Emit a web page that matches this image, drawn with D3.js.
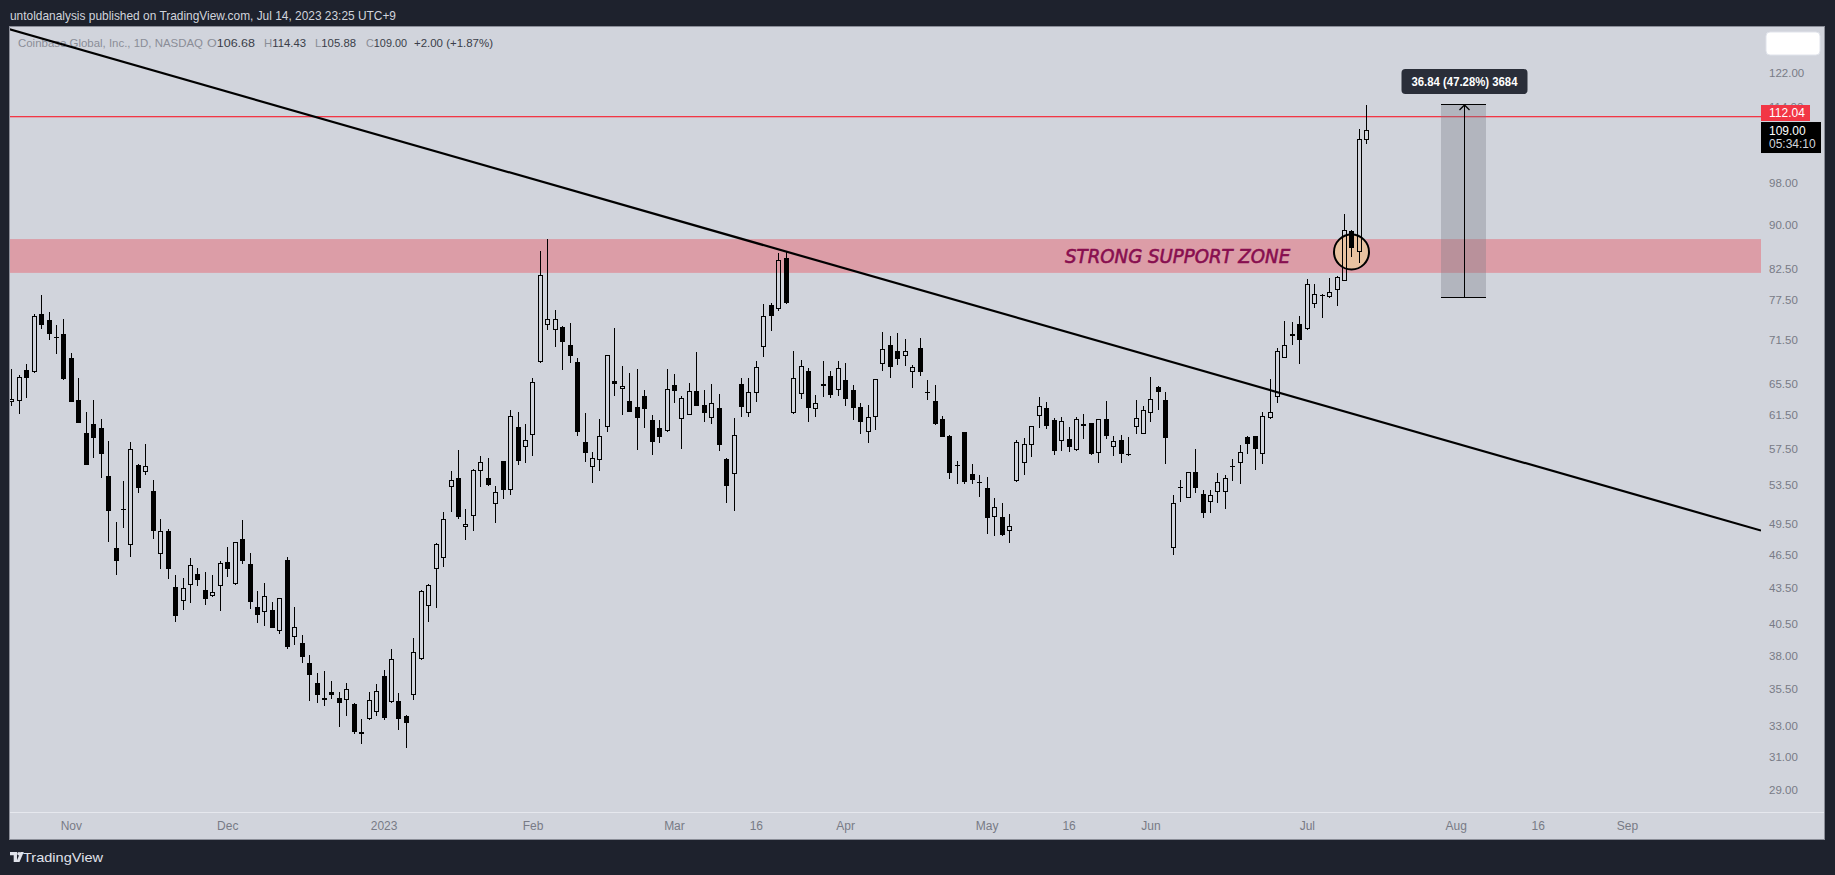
<!DOCTYPE html>
<html><head><meta charset="utf-8">
<script src="https://cdn.jsdelivr.net/npm/d3@7"></script>
<style>
html,body{margin:0;padding:0;background:#1e222d;overflow:hidden}
svg{display:block}
text{white-space:pre}
</style>
</head><body>
<svg id="c" width="1835" height="875"></svg>
<script>
// ---------------- DATA ----------------
const dates = [
"2022-10-20","2022-10-21","2022-10-24","2022-10-25","2022-10-26","2022-10-27","2022-10-28","2022-10-31",
"2022-11-01","2022-11-02","2022-11-03","2022-11-04","2022-11-07","2022-11-08","2022-11-09","2022-11-10","2022-11-11","2022-11-14","2022-11-15","2022-11-16","2022-11-17","2022-11-18","2022-11-21","2022-11-22","2022-11-23","2022-11-25","2022-11-28","2022-11-29","2022-11-30",
"2022-12-01","2022-12-02","2022-12-05","2022-12-06","2022-12-07","2022-12-08","2022-12-09","2022-12-12","2022-12-13","2022-12-14","2022-12-15","2022-12-16","2022-12-19","2022-12-20","2022-12-21","2022-12-22","2022-12-23","2022-12-27","2022-12-28","2022-12-29","2022-12-30",
"2023-01-03","2023-01-04","2023-01-05","2023-01-06","2023-01-09","2023-01-10","2023-01-11","2023-01-12","2023-01-13","2023-01-17","2023-01-18","2023-01-19","2023-01-20","2023-01-23","2023-01-24","2023-01-25","2023-01-26","2023-01-27","2023-01-30","2023-01-31",
"2023-02-01","2023-02-02","2023-02-03","2023-02-06","2023-02-07","2023-02-08","2023-02-09","2023-02-10","2023-02-13","2023-02-14","2023-02-15","2023-02-16","2023-02-17","2023-02-21","2023-02-22","2023-02-23","2023-02-24","2023-02-27","2023-02-28",
"2023-03-01","2023-03-02","2023-03-03","2023-03-06","2023-03-07","2023-03-08","2023-03-09","2023-03-10","2023-03-13","2023-03-14","2023-03-15","2023-03-16","2023-03-17","2023-03-20","2023-03-21","2023-03-22","2023-03-23","2023-03-24","2023-03-27","2023-03-28","2023-03-29","2023-03-30","2023-03-31",
"2023-04-03","2023-04-04","2023-04-05","2023-04-06","2023-04-10","2023-04-11","2023-04-12","2023-04-13","2023-04-14","2023-04-17","2023-04-18","2023-04-19","2023-04-20","2023-04-21","2023-04-24","2023-04-25","2023-04-26","2023-04-27","2023-04-28",
"2023-05-01","2023-05-02","2023-05-03","2023-05-04","2023-05-05","2023-05-08","2023-05-09","2023-05-10","2023-05-11","2023-05-12","2023-05-15","2023-05-16","2023-05-17","2023-05-18","2023-05-19","2023-05-22","2023-05-23","2023-05-24","2023-05-25","2023-05-26","2023-05-30","2023-05-31",
"2023-06-01","2023-06-02","2023-06-05","2023-06-06","2023-06-07","2023-06-08","2023-06-09","2023-06-12","2023-06-13","2023-06-14","2023-06-15","2023-06-16","2023-06-20","2023-06-21","2023-06-22","2023-06-23","2023-06-26","2023-06-27","2023-06-28","2023-06-29","2023-06-30",
"2023-07-03","2023-07-05","2023-07-06","2023-07-07","2023-07-10","2023-07-11","2023-07-12","2023-07-13","2023-07-14"
];
const open = [
63.15,63.32,67.33,66.98,75.32,74.43,71.98,72.37,
68.97,63.40,59.35,60.43,59.94,54.44,47.13,50.99,47.44,55.62,54.92,52.83,46.60,48.73,43.56,42.33,43.79,44.71,43.30,42.84,43.62,
45.79,43.88,47.99,45.64,41.88,41.48,41.59,39.93,45.98,39.40,38.95,37.42,35.96,34.73,35.31,34.92,34.73,34.47,32.59,33.42,33.95,
36.45,34.59,34.66,33.62,35.12,37.70,41.93,45.14,46.16,53.23,54.18,49.18,50.28,54.95,54.18,51.42,56.08,52.90,60.01,57.66,
59.07,68.39,73.63,73.00,73.38,70.78,68.40,58.28,55.46,56.25,60.08,65.85,64.83,63.22,62.47,63.90,60.89,59.89,59.61,
65.31,61.01,61.56,64.49,62.77,61.13,62.35,56.31,54.62,65.41,61.80,64.32,70.45,76.62,76.12,84.26,61.76,64.11,67.18,62.22,65.45,66.51,64.62,
65.93,64.69,62.47,59.50,61.31,68.09,70.74,69.93,69.19,67.02,70.31,64.38,63.27,61.03,58.99,55.62,59.42,54.66,53.75,
53.11,50.11,50.11,48.73,53.93,55.84,57.89,61.35,62.35,60.95,58.37,58.64,57.39,60.39,60.55,57.01,61.03,57.74,58.52,56.89,60.04,59.25,
61.72,65.06,63.40,47.10,53.15,52.13,54.91,52.48,51.71,52.75,52.68,55.39,55.84,58.82,58.94,56.85,61.10,63.78,68.92,72.02,73.78,
73.14,76.79,78.03,77.98,78.96,80.41,88.94,85.22,106.68
];
const high = [
67.42,66.62,68.14,75.32,78.25,75.57,73.68,74.58,
69.67,66.26,61.89,63.40,61.03,58.41,49.65,53.89,58.25,55.77,58.05,54.00,49.95,48.96,44.65,44.38,46.20,45.28,44.92,44.65,45.92,
47.22,47.70,49.85,46.66,43.23,43.94,42.30,42.65,46.29,41.88,39.58,38.03,36.67,36.82,36.09,35.31,35.96,34.55,33.44,35.31,35.89,
36.87,38.47,35.24,33.71,39.34,43.31,43.85,47.60,50.66,54.99,57.34,50.97,55.21,56.64,56.42,53.37,56.10,62.19,61.85,60.37,
66.24,85.40,87.52,75.89,73.48,73.98,68.96,61.76,57.12,61.05,69.35,73.24,67.86,66.92,67.46,64.66,61.51,60.93,67.46,
66.79,63.94,65.58,69.80,64.66,65.45,64.15,56.39,61.17,66.24,66.24,68.52,76.82,76.92,85.02,85.37,69.94,68.66,67.63,64.02,68.52,67.23,68.52,
68.26,65.33,63.02,62.72,66.10,72.60,72.07,72.50,71.64,67.99,71.74,65.98,65.33,61.39,59.10,56.11,59.45,55.80,54.55,
54.33,52.09,51.57,50.45,58.52,58.72,60.15,63.78,63.14,61.11,61.27,60.10,61.27,61.60,60.56,61.04,63.27,58.99,59.10,58.90,63.44,62.59,
66.34,65.15,64.46,52.37,53.96,54.91,57.46,52.92,52.92,54.80,54.54,56.32,57.90,59.02,59.02,61.85,66.12,70.31,74.31,74.07,75.05,
80.79,79.93,78.34,81.01,81.23,92.02,89.06,109.05,114.43
];
const low = [
62.64,61.64,63.65,66.90,73.09,71.51,69.44,66.00,
63.10,60.50,55.60,56.45,54.22,47.70,44.65,49.06,46.32,52.62,54.55,47.99,45.19,44.29,40.63,41.62,42.21,43.68,42.05,42.72,41.54,
44.47,43.76,45.64,41.71,40.55,40.30,40.10,39.67,38.48,38.79,37.45,34.71,34.57,34.34,34.81,32.93,33.67,32.48,31.81,33.40,33.67,
33.39,34.55,32.75,31.59,34.78,37.65,40.62,41.74,45.35,50.69,49.94,47.92,48.77,53.27,53.37,49.57,52.00,52.44,55.70,55.92,
56.69,68.30,72.93,70.55,67.32,68.31,59.02,56.02,53.71,55.02,59.49,63.94,61.56,61.90,57.38,59.97,56.80,58.20,59.49,
63.05,57.50,61.48,62.60,60.60,60.36,57.27,51.61,50.78,61.21,61.21,63.17,69.12,72.84,75.81,76.87,61.60,63.56,60.60,61.21,63.81,63.68,63.94,
62.68,60.91,59.26,58.21,59.74,67.24,66.30,68.05,67.91,64.99,66.57,63.43,60.31,58.82,54.16,53.60,53.60,53.60,52.23,
48.50,48.31,48.31,47.63,53.78,54.55,56.60,59.97,59.86,56.82,57.24,57.16,57.27,58.68,56.82,55.92,58.68,56.62,55.92,56.70,59.25,59.20,
60.70,62.10,55.80,46.47,51.71,52.06,52.58,50.08,50.58,51.61,50.96,53.89,53.60,56.85,55.10,55.80,61.02,62.96,68.90,70.79,68.18,
72.95,76.18,74.66,77.72,76.58,80.40,84.47,83.46,105.88
];
const close = [
63.48,66.35,66.26,75.02,73.73,72.41,71.89,66.12,
63.15,60.55,55.66,58.76,56.90,50.75,45.92,50.92,57.44,53.15,55.51,48.80,48.73,45.19,41.12,43.50,45.52,44.23,42.50,43.13,45.70,
45.22,47.67,45.92,42.30,41.20,42.78,40.15,42.61,38.64,40.18,37.91,36.55,35.12,34.92,35.12,34.57,35.50,32.59,32.48,34.73,35.36,
33.53,37.70,33.46,33.21,38.24,43.19,43.73,47.47,49.91,54.03,50.17,49.41,55.06,55.97,53.51,52.68,52.97,61.36,56.04,58.48,
65.66,81.40,74.54,74.54,71.26,69.29,59.49,57.05,56.40,58.95,69.31,65.50,65.18,61.93,61.09,62.30,58.32,58.90,64.74,
64.58,63.60,64.49,62.68,61.80,62.98,57.96,53.38,59.06,62.56,64.36,67.68,74.96,75.06,83.86,76.97,66.20,67.81,62.43,62.98,65.23,64.06,67.54,
63.56,62.43,60.71,61.31,66.08,70.16,67.77,68.87,69.88,67.68,67.11,64.25,60.47,58.90,54.74,55.51,53.82,54.05,53.64,
50.08,51.20,48.37,49.22,58.25,58.00,60.14,62.60,60.22,57.27,60.75,57.74,60.99,60.22,56.90,61.03,59.02,58.37,56.86,56.78,61.10,62.10,
63.52,64.46,58.71,51.54,53.25,54.83,53.17,50.51,52.41,53.82,54.18,55.50,57.07,57.98,57.42,61.43,61.85,69.93,70.74,72.31,71.45,
79.93,78.34,78.19,78.65,81.12,89.06,85.90,107.00,109.00
];
const marketHolidays = ["2023-09-04"];
const priceTicks = [122,114,98,90,82.5,77.5,71.5,65.5,61.5,57.5,53.5,49.5,46.5,43.5,40.5,38,35.5,33,31,29];
const timeTickLabels = ["Nov","Dec","2023","Feb","Mar","16","Apr","May","16","Jun","Jul","Aug","16","Sep"];
const timeTickDates = ["2022-11-01","2022-12-01","2023-01-03","2023-02-01","2023-03-01","2023-03-16","2023-04-03","2023-05-01","2023-05-16","2023-06-01","2023-07-03","2023-08-01","2023-08-16","2023-09-01"];
// drawings
const zonePrices = [87.51, 81.78];
const zoneText = "STRONG SUPPORT ZONE";
const zoneTextDate = "2023-05-15";
const resistancePrice = 112.04;
const trendDates = ["2022-10-20","2023-07-14"];
const trendPrices = [133.1, 61.19];
const circleDate = "2023-07-12", circlePrice = 85.28;
const measureDates = ["2023-07-28","2023-08-07"];
const measurePrices = [77.92, 114.76];
const headerText = "untoldanalysis published on TradingView.com, Jul 14, 2023 23:25 UTC+9";
const symbolText = "Coinbase Global, Inc., 1D, NASDAQ";
const countdownText = "05:34:10";

// ---------------- CALENDAR ----------------
const calendar = dates.slice();
{
  const fmt = d3.utcFormat("%Y-%m-%d");
  let d = new Date(dates[dates.length-1] + "T00:00:00Z");
  while (calendar.length < 240) {
    d = d3.utcDay.offset(d, 1);
    const wd = d.getUTCDay();
    const s = fmt(d);
    if (wd === 0 || wd === 6 || marketHolidays.includes(s)) continue;
    calendar.push(s);
  }
}
const idx = new Map(calendar.map((d,i)=>[d,i]));

// ---------------- LAYOUT ----------------
const paneL=10, paneR=1761, paneT=27, paneB=812, panelR=1824, panelB=839;
const svg = d3.select("#c");
const x = d3.scaleLinear().domain([-0.175, 235]).range([paneL, paneR]);
const y = d3.scaleLog().domain([133.86, 27.76]).range([paneT, paneB]);
const FONT = "'Liberation Sans', Arial, sans-serif";

// panel
svg.append("rect").attr("x",paneL-0.5).attr("y",paneT-0.5).attr("width",panelR-paneL+1).attr("height",panelB-paneT+1)
  .attr("fill","#d1d4dc").attr("stroke","#8b8e98").attr("stroke-width",1);
svg.append("rect").attr("x",paneL).attr("width",panelR-paneL).attr("y",paneB).attr("height",1)
  .attr("fill","#e6e8ee");

// header
svg.append("text").attr("x",10).attr("y",15).attr("dominant-baseline","central")
  .attr("fill","#d1d4dc").style("font","13px "+FONT)
  .attr("textLength",386).attr("lengthAdjust","spacingAndGlyphs").text(headerText);

// clip
svg.append("defs").append("clipPath").attr("id","pane").append("rect")
  .attr("x",paneL).attr("y",paneT).attr("width",paneR-paneL).attr("height",paneB-paneT);
const g = svg.append("g").attr("clip-path","url(#pane)");

// symbol legend (separate text pieces)
const last = close.length-1;
const chg = close[last]-close[last-1];
const gray="#8a8d97", dark="#3a3e49";
const legendParts = [
  {x:18,  w:185, parts:[[symbolText,gray]]},
  {x:207, w:48,  parts:[["O",gray],[open[last].toFixed(2),dark]]},
  {x:264, w:42,  parts:[["H",gray],[high[last].toFixed(2),dark]]},
  {x:315, w:41,  parts:[["L",gray],[low[last].toFixed(2),dark]]},
  {x:366, w:41,  parts:[["C",gray],[close[last].toFixed(2),dark]]},
  {x:414, w:79,  parts:[[(chg>=0?"+":"")+chg.toFixed(2)+" ("+(chg>=0?"+":"")+(chg/close[last-1]*100).toFixed(2)+"%)",dark]]}
];
legendParts.forEach(p=>{
  const t = g.append("text").attr("x",p.x).attr("y",43).attr("dominant-baseline","central")
    .style("font","11.4px "+FONT).attr("textLength",p.w).attr("lengthAdjust","spacingAndGlyphs");
  p.parts.forEach(([s,c])=>t.append("tspan").attr("fill",c).text(s));
});

// support zone
g.append("rect").attr("x",paneL).attr("width",paneR-paneL)
  .attr("y",y(zonePrices[0])).attr("height",y(zonePrices[1])-y(zonePrices[0]))
  .attr("fill","rgba(242,54,69,0.35)");
g.append("text").attr("x",x(idx.get(zoneTextDate))+4)
  .attr("y",(y(zonePrices[0])+y(zonePrices[1]))/2+6.8)
  .attr("fill","#880e4f").attr("stroke","#880e4f").attr("stroke-width",0.6)
  .style("font","italic 400 19px 'DejaVu Sans', sans-serif")
  .attr("textLength",225).attr("lengthAdjust","spacingAndGlyphs").text(zoneText);

// resistance line
g.append("rect").attr("x",paneL).attr("width",paneR-paneL)
  .attr("y",Math.round(y(resistancePrice))).attr("height",1.3)
  .attr("fill","#f23645");

// circle
g.append("circle").attr("cx",x(idx.get(circleDate))).attr("cy",y(circlePrice)).attr("r",17.5)
  .attr("fill","#e9c2a1").attr("stroke","#000").attr("stroke-width",2);

// candles
const cg = g.append("g").attr("shape-rendering","crispEdges");
dates.forEach((d,i)=>{
  const xc = Math.round(x(idx.get(d)));
  const o=open[i], c=close[i];
  const yT = Math.round(y(Math.max(o,c))), yB = Math.round(y(Math.min(o,c)));
  const yH = Math.round(y(high[i])), yL = Math.round(y(low[i]));
  const up = c>=o;
  const h = yB-yT;
  if (h<=1) {
    cg.append("rect").attr("x",xc).attr("y",yH).attr("width",1).attr("height",Math.max(1,yL-yH)).attr("fill","#000");
    cg.append("rect").attr("x",xc-2).attr("y",yT).attr("width",5).attr("height",Math.max(1,h)).attr("fill","#000");
    return;
  }
  if (yT>yH) cg.append("rect").attr("x",xc).attr("y",yH).attr("width",1).attr("height",yT-yH).attr("fill","#000");
  if (yL>yB) cg.append("rect").attr("x",xc).attr("y",yB).attr("width",1).attr("height",yL-yB).attr("fill","#000");
  if (up) {
    cg.append("rect").attr("x",xc-1.5).attr("y",yT+0.5).attr("width",4).attr("height",h-1)
      .attr("fill","none").attr("stroke","#000").attr("stroke-width",1);
  } else {
    cg.append("rect").attr("x",xc-2).attr("y",yT).attr("width",5).attr("height",h).attr("fill","#000");
  }
});

// trend line (extended across pane)
{
  const x1=x(idx.get(trendDates[0])), y1=y(trendPrices[0]);
  const x2=x(idx.get(trendDates[1])), y2=y(trendPrices[1]);
  const s=(y2-y1)/(x2-x1);
  g.append("line").attr("x1",paneL-5).attr("y1",y1+s*(paneL-5-x1))
    .attr("x2",paneR).attr("y2",y1+s*(paneR-x1))
    .attr("stroke","#000").attr("stroke-width",2.2);
}

// price range measure
{
  const xa=Math.round(x(idx.get(measureDates[0]))), xb=Math.round(x(idx.get(measureDates[1])));
  const yTop=Math.round(y(measurePrices[1])), yBot=Math.round(y(measurePrices[0]));
  const xm=Math.round((xa+xb)/2)+0.5;
  const mg=g.append("g");
  mg.append("rect").attr("x",xa).attr("y",yTop).attr("width",xb-xa).attr("height",yBot-yTop)
    .attr("fill","rgba(120,123,134,0.35)");
  mg.append("line").attr("x1",xa).attr("x2",xb).attr("y1",yTop+0.5).attr("y2",yTop+0.5).attr("stroke","#000");
  mg.append("line").attr("x1",xa).attr("x2",xb).attr("y1",yBot+0.5).attr("y2",yBot+0.5).attr("stroke","#000");
  mg.append("line").attr("x1",xm).attr("x2",xm).attr("y1",yTop+1).attr("y2",yBot).attr("stroke","#000");
  mg.append("path").attr("d",`M${xm-5},${yTop+6}L${xm},${yTop+1}L${xm+5},${yTop+6}`)
    .attr("fill","none").attr("stroke","#000").attr("stroke-width",1.3);
  const diff = measurePrices[1]-measurePrices[0];
  const lbl = diff.toFixed(2)+" ("+(diff/measurePrices[0]*100).toFixed(2)+"%) "+Math.round(diff*100);
  mg.append("rect").attr("x",xm-63).attr("y",yTop-35).attr("width",126).attr("height",25).attr("rx",4)
    .attr("fill","#2a2e39");
  mg.append("text").attr("x",xm).attr("y",yTop-22.5).attr("text-anchor","middle").attr("dominant-baseline","central")
    .attr("fill","#ffffff").style("font","600 12px "+FONT)
    .attr("textLength",106).attr("lengthAdjust","spacingAndGlyphs").text(lbl);
}

// price axis
const yAx = svg.append("g").attr("transform",`translate(${paneR},0)`)
  .call(d3.axisRight(y).tickValues(priceTicks).tickFormat(d3.format(".2f")).tickSize(0).tickPadding(8));
yAx.select(".domain").remove();
yAx.selectAll("text").attr("fill","#787b86").style("font","11.5px "+FONT);

// time axis
const xAx = svg.append("g").attr("transform",`translate(0,${paneB})`)
  .call(d3.axisBottom(x).tickValues(timeTickDates.map(d=>idx.get(d))).tickFormat((d,i)=>timeTickLabels[i]).tickSize(0).tickPadding(9));
xAx.select(".domain").remove();
xAx.selectAll("text").attr("fill","#787b86").style("font","12px "+FONT);

// price labels on axis
{
  const rl = svg.append("g");
  rl.append("rect").attr("x",paneR).attr("y",105).attr("width",49).attr("height",16).attr("fill","#f23645");
  rl.append("text").attr("x",paneR+8).attr("y",113).attr("dominant-baseline","central").attr("fill","#fff")
    .style("font","12px "+FONT).text(resistancePrice.toFixed(2));
  const yc = y(close[last]);
  rl.append("rect").attr("x",paneR).attr("y",yc-7.5).attr("width",60).attr("height",31).attr("fill","#000");
  rl.append("text").attr("x",paneR+8).attr("y",yc+1.2).attr("dominant-baseline","central").attr("fill","#fff")
    .style("font","12px "+FONT).text(close[last].toFixed(2));
  rl.append("text").attr("x",paneR+8).attr("y",yc+14.8).attr("dominant-baseline","central").attr("fill","#d1d4dc")
    .style("font","12px "+FONT).text(countdownText);
}
// top-right white box
svg.append("rect").attr("x",1766).attr("y",32).attr("width",54).attr("height",23).attr("rx",4)
  .attr("fill","#ffffff").attr("stroke","#e0e3eb");

// footer logo
{
  const f = svg.append("g").attr("fill","#e0e3eb");
  f.append("path").attr("d","M10,852h7v10h-3.3v-6.8h-3.7z");
  f.append("circle").attr("cx",19).attr("cy",853.8).attr("r",1.8);
  f.append("path").attr("d","M20.5,852h3.3l-4.3,10h-3.3z");
  svg.append("text").attr("x",23).attr("y",857).attr("dominant-baseline","central")
    .attr("fill","#e0e3eb").style("font","13.5px "+FONT)
    .attr("textLength",80).attr("lengthAdjust","spacingAndGlyphs").text("TradingView");
}
</script>
</body></html>
